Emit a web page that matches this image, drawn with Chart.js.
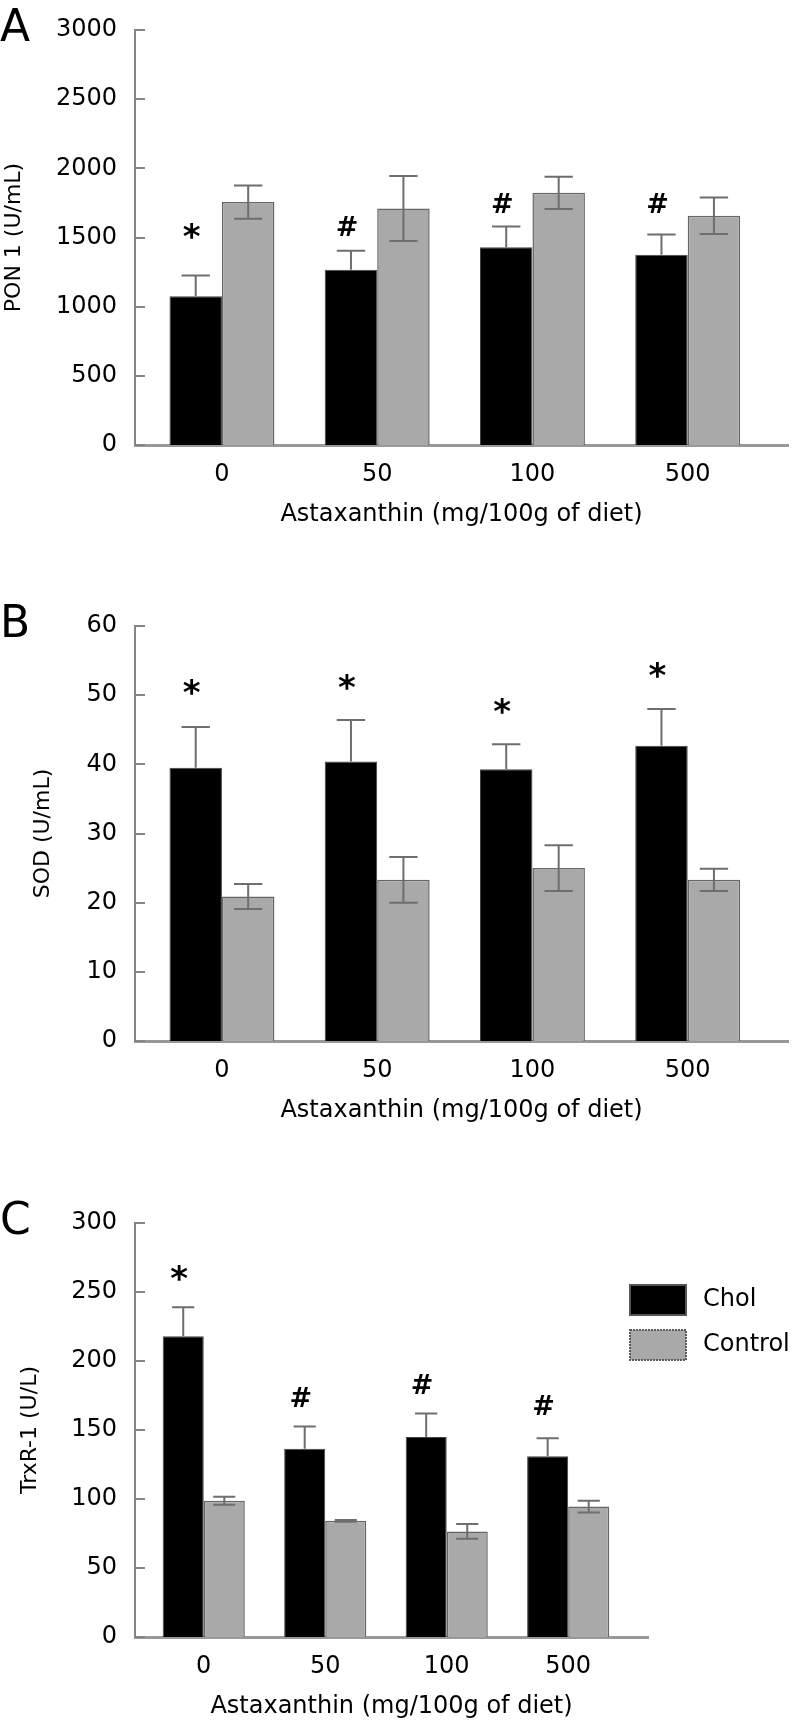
<!DOCTYPE html>
<html>
<head>
<meta charset="utf-8">
<script src="https://cdn.jsdelivr.net/npm/chart.js@4.4.1/dist/chart.umd.min.js"></script>
<style>
body { margin: 0; background: #fff; width: 792px; height: 1722px; position: relative; overflow: hidden; }
canvas { position: absolute; left: 0; }
</style>
</head>
<body>
<canvas id="chartA" width="792" height="530" style="top:0px"></canvas>
<canvas id="chartB" width="792" height="530" style="top:596px"></canvas>
<canvas id="chartC" width="792" height="529" style="top:1193px"></canvas>
<script>
// doses on the x axis, same for every panel
const doses = ['0', '50', '100', '500']
const seriesNames = ['Chol', 'Control']
const xTitle = 'Astaxanthin (mg/100g of diet)'

// A - PON 1
const ponChol = [1076, 1267, 1430, 1376]
const ponCholSE = [150, 137, 150, 146]
const ponCtrl = [1756, 1710, 1823, 1657]
const ponCtrlSE = [120, 235, 117, 132]
const ponMarks = ['*', '#', '#', '#']
const ponMarkAt = [1545, 1583, 1746, 1746]
const ponTicks = [0, 500, 1000, 1500, 2000, 2500, 3000]

// B - SOD
const sodChol = [39.5, 40.4, 39.3, 42.7]
const sodCholSE = [5.9, 6.0, 3.6, 5.3]
const sodCtrl = [20.9, 23.3, 25.0, 23.3]
const sodCtrlSE = [1.8, 3.3, 3.3, 1.6]
const sodMarks = ['*', '*', '*', '*']
const sodMarkAt = [51.2, 51.9, 48.5, 53.7]
const sodTicks = [0, 10, 20, 30, 40, 50, 60]

// C - TrxR-1
const trxChol = [218, 136.5, 145, 131]
const trxCholSE = [21, 16, 17, 13]
const trxCtrl = [98.8, 84.2, 76.5, 94.5]
const trxCtrlSE = [2.9, 0.6, 5.3, 4.3]
const trxMarks = ['*', '#', '#', '#']
const trxMarkAt = [264, 174, 183, 168]
const trxTicks = [0, 50, 100, 150, 200, 250, 300]

const black = '#000000'
const grey = '#a9a9a9'
const yAxisGrey = '#858585'
const xAxisGrey = '#999999'
const whiskerGrey = '#6e6e6e'
const fontFamily = "'DejaVu Sans', Verdana, sans-serif"

Chart.defaults.font.family = fontFamily
Chart.defaults.color = '#000'

// error bars, significance marks, inward ticks, panel letter, legend
const decor = {
	id: 'decor',
	afterDatasetsDraw(chart, args, opts) {
		const ctx = chart.ctx
		const y = chart.scales.y
		ctx.save()
		ctx.strokeStyle = whiskerGrey
		ctx.lineWidth = 2
		chart.data.datasets.forEach((ds, di) => {
			chart.getDatasetMeta(di).data.forEach((bar, i) => {
				const v = ds.data[i].y
				const e = opts.errors[di][i]
				const top = y.getPixelForValue(v + e)
				const bot = y.getPixelForValue(di === 0 ? v : v - e)
				const half = bar.width * 0.27
				ctx.beginPath()
				ctx.moveTo(bar.x, top)
				ctx.lineTo(bar.x, bot)
				ctx.moveTo(bar.x - half, top)
				ctx.lineTo(bar.x + half, top)
				if (di === 1) {
					ctx.moveTo(bar.x - half, bot)
					ctx.lineTo(bar.x + half, bot)
				}
				ctx.stroke()
			})
		})
		ctx.restore()
	},
	afterDraw(chart, args, opts) {
		const {ctx, chartArea} = chart
		const y = chart.scales.y
		ctx.save()

		// tick marks point into the plot
		ctx.strokeStyle = yAxisGrey
		ctx.lineWidth = 2
		y.ticks.forEach(t => {
			const py = Math.round(y.getPixelForValue(t.value))
			ctx.beginPath()
			ctx.moveTo(chartArea.left, py)
			ctx.lineTo(chartArea.left + 10, py)
			ctx.stroke()
		})

		// * and # above the Chol bars
		ctx.fillStyle = '#000'
		ctx.textAlign = 'center'
		ctx.textBaseline = 'alphabetic'
		const chol = chart.getDatasetMeta(0).data
		opts.marks.forEach((t, i) => {
			ctx.font = (t === '*' ? 'bold 34px ' : 'bold 27px ') + fontFamily
			const m = ctx.measureText(t)
			const yc = y.getPixelForValue(opts.markAt[i])
			ctx.fillText(t, chol[i].x - 4, yc + (m.actualBoundingBoxAscent - m.actualBoundingBoxDescent) / 2)
		})

		// panel letter
		ctx.textAlign = 'left'
		ctx.font = '44px ' + fontFamily
		ctx.fillText(opts.letter, 0, chartArea.top + 11)

		if (opts.legend) {
			ctx.font = '24px ' + fontFamily
			ctx.textBaseline = 'middle'
			chart.data.datasets.forEach((ds, k) => {
				const bx = 630
				const by = chartArea.top + 62 + k * 45
				ctx.fillStyle = ds.backgroundColor
				ctx.fillRect(bx, by, 56, 30)
				ctx.strokeStyle = k === 0 ? '#555' : '#5a5a5a'
				ctx.lineWidth = 2
				ctx.setLineDash(k === 0 ? [] : [2, 1])
				ctx.strokeRect(bx, by, 56, 30)
				ctx.setLineDash([])
				ctx.fillStyle = '#000'
				ctx.fillText(ds.label, 703, by + 15)
			})
		}
		ctx.restore()
	}
}

function makePanel(id, p) {
	const toPoints = arr => arr.map((v, i) => ({x: i, y: v}))
	return new Chart(document.getElementById(id), {
		type: 'bar',
		data: {
			datasets: [
				{label: seriesNames[0], data: toPoints(p.chol), backgroundColor: black, borderColor: '#444', borderWidth: 1},
				{label: seriesNames[1], data: toPoints(p.ctrl), backgroundColor: grey, borderColor: '#666', borderWidth: 1.5}
			]
		},
		options: {
			responsive: false,
			animation: false,
			devicePixelRatio: 1,
			layout: {padding: {top: 25, right: p.right, left: 0, bottom: 0}},
			datasets: {bar: {categoryPercentage: 0.676, barPercentage: 1}},
			plugins: {
				legend: {display: false},
				tooltip: {enabled: false},
				decor: {errors: [p.cholSE, p.ctrlSE], marks: p.marks, markAt: p.markAt, letter: p.letter, legend: p.legend}
			},
			scales: {
				x: {
					type: 'linear',
					offset: false,
					min: p.xMin,
					max: p.xMax,
					afterBuildTicks: s => { s.ticks = doses.map((d, i) => ({value: i})) },
					afterFit: s => { s.height = 85 },
					grid: {display: false, drawTicks: false, offset: false},
					border: {color: xAxisGrey, width: 3},
					ticks: {callback: v => doses[v], font: {size: 24, lineHeight: 1}, padding: 18, maxRotation: 0, autoSkip: false},
					title: {display: true, text: xTitle, font: {size: 24, lineHeight: 1}, padding: {top: 0, bottom: 3}}
				},
				y: {
					min: 0,
					max: p.ticks[p.ticks.length - 1],
					afterBuildTicks: s => { s.ticks = p.ticks.map(v => ({value: v})) },
					afterFit: s => { s.width = 135 },
					grid: {display: false, drawTicks: false},
					border: {color: yAxisGrey, width: 2},
					ticks: {callback: v => String(v), font: {size: 24, lineHeight: 1}, padding: 18},
					title: {display: true, text: p.yTitle, font: {size: 22, lineHeight: 1}, padding: {top: p.titlePad, bottom: 0}}
				}
			}
		},
		plugins: [decor]
	})
}

makePanel('chartA', {
	letter: 'A', yTitle: 'PON 1 (U/mL)', titlePad: 3,
	chol: ponChol, cholSE: ponCholSE, ctrl: ponCtrl, ctrlSE: ponCtrlSE,
	marks: ponMarks, markAt: ponMarkAt, ticks: ponTicks,
	xMin: -0.56, xMax: 3.646, right: 4, legend: false
})
makePanel('chartB', {
	letter: 'B', yTitle: 'SOD (U/mL)', titlePad: 32,
	chol: sodChol, cholSE: sodCholSE, ctrl: sodCtrl, ctrlSE: sodCtrlSE,
	marks: sodMarks, markAt: sodMarkAt, ticks: sodTicks,
	xMin: -0.56, xMax: 3.646, right: 4, legend: false
})
makePanel('chartC', {
	letter: 'C', yTitle: 'TrxR-1 (U/L)', titlePad: 19,
	chol: trxChol, cholSE: trxCholSE, ctrl: trxCtrl, ctrlSE: trxCtrlSE,
	marks: trxMarks, markAt: trxMarkAt, ticks: trxTicks,
	xMin: -0.566, xMax: 3.657, right: 144, legend: true
})
</script>
</body>
</html>
